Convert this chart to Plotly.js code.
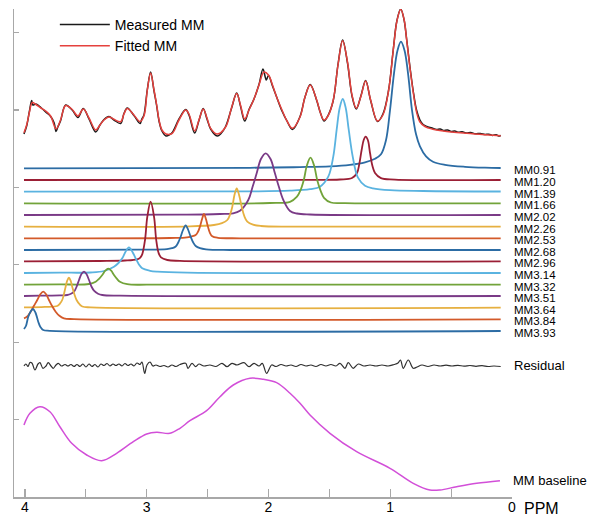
<!DOCTYPE html>
<html>
<head>
<meta charset="utf-8">
<script src="https://cdn.plot.ly/plotly-3.0.1.min.js"></script>
<style>html,body{margin:0;padding:0;background:#fff;}#chart{width:591px;height:516px;}</style>
</head>
<body>
<div id="chart"></div>
<script>
// ---------- DATA (chemical shift in ppm, signal in arbitrary units) ----------
const fitPpm = [4.008,3.986,3.963,3.940,3.910,3.869,3.830,3.789,3.745,3.708,3.666,3.612,3.565,3.521,3.474,3.419,3.384,3.351,3.310,3.269,3.214,3.187,3.160,3.105,3.055,3.023,2.995,2.968,2.940,2.918,2.899,2.875,2.842,2.790,2.735,2.680,2.653,2.606,2.571,2.536,2.505,2.475,2.421,2.352,2.304,2.261,2.230,2.195,2.160,2.119,2.078,2.037,2.000,1.967,1.933,1.889,1.848,1.803,1.741,1.700,1.657,1.604,1.573,1.544,1.511,1.468,1.429,1.391,1.351,1.314,1.279,1.240,1.202,1.161,1.105,1.060,1.014,0.975,0.945,0.914,0.887,0.865,0.838,0.810,0.784,0.756,0.715,0.657,0.564,0.372,0.222,0.093];
const fitVal = [364.3,372,385,394.5,392.5,389,386,381,368,377,391.5,387.5,381,388,379,367,372,377,380,377.7,375.3,383,388.5,382,375.5,381,407,424,407,392,377,367,363,363.7,377,387,383,366,377,388,379,368.7,363,370,389,403.5,392,378,387,398,412,425,422,412,400,387,376,368.7,380,400,412,397,384,377,381,397,432,456.3,435,402,388.7,401,416,397,376,382,406,447,476,487.7,478,457,429,403.7,385,375,370.5,368,366,363.7,362.3,361.3];

const measPpm = [4.008,3.986,3.963,3.945,3.935,3.910,3.869,3.830,3.789,3.760,3.745,3.730,3.708,3.666,3.612,3.565,3.521,3.474,3.419,3.384,3.351,3.310,3.269,3.214,3.187,3.160,3.105,3.055,3.040,3.023,2.995,2.968,2.940,2.918,2.899,2.875,2.842,2.810,2.790,2.735,2.680,2.653,2.606,2.571,2.536,2.505,2.475,2.421,2.390,2.352,2.304,2.261,2.230,2.195,2.160,2.119,2.078,2.045,2.018,2.000,1.967,1.933,1.889,1.848,1.803,1.741,1.700,1.657,1.604,1.573,1.544,1.511,1.468,1.429,1.391,1.351,1.314,1.279,1.240,1.202,1.161,1.105,1.060,1.014,0.975,0.945,0.914,0.887,0.865,0.838,0.810,0.784,0.756,0.730,0.700,0.657,0.620,0.590,0.564,0.530,0.500,0.470,0.440,0.410,0.372,0.340,0.300,0.260,0.222,0.190,0.160,0.130,0.110,0.093];
const measVal = [363,371,386,396.5,392,393,389.5,385,380.5,374,365.5,370,376,392,387,379.5,388.5,378,365,372,377.5,380.5,377,373.5,383.5,389,381.5,373.5,378,382,407.5,425,406,391,376,366,361,362.5,364.5,378,387.5,382,364,376.5,388.5,378,368,361,363.5,370.5,388.5,404,391,376,387.5,398,412.5,428,417,421.5,411,400,386,376,367.5,380.5,400,412.5,396.5,384,376,381.5,396.5,432.5,457,434,401,388,401.5,416.5,396.5,375.5,383,406.5,447.5,476.5,488,477.5,457.5,430,405,387,377,372.5,370.5,369,367.5,368,366.5,367,365.5,366,364.8,365.3,364,364.6,363.2,363.6,362.5,362.8,361.6,362.3,361,361.5];

const mmNames = ['MM0.91','MM1.20','MM1.39','MM1.66','MM2.02','MM2.26','MM2.53','MM2.68','MM2.96','MM3.14','MM3.32','MM3.51','MM3.64','MM3.84','MM3.93'];
const mmPpm = [
  [4.008,2.152,1.741,1.495,1.331,1.207,1.125,1.076,1.035,1.002,0.969,0.940,0.912,0.883,0.854,0.821,0.788,0.756,0.706,0.649,0.550,0.386,0.222,0.093],
  [4.008,1.741,1.413,1.314,1.273,1.254,1.235,1.218,1.202,1.184,1.166,1.146,1.125,1.076,0.961,0.093],
  [4.008,2.152,1.823,1.659,1.577,1.509,1.468,1.440,1.415,1.390,1.366,1.341,1.308,1.265,1.207,1.142,1.002,0.731,0.093],
  [4.008,1.988,1.823,1.766,1.737,1.710,1.684,1.655,1.626,1.600,1.573,1.544,1.487,1.372,0.093],
  [4.008,2.727,2.398,2.292,2.234,2.166,2.131,2.097,2.062,2.023,1.983,1.947,1.914,1.878,1.823,1.766,1.659,0.093],
  [4.008,2.645,2.448,2.382,2.338,2.316,2.297,2.279,2.261,2.242,2.220,2.197,2.174,2.127,2.062,1.823,0.093],
  [4.008,2.809,2.669,2.598,2.579,2.563,2.546,2.530,2.513,2.497,2.481,2.462,2.415,2.234,0.093],
  [4.008,3.055,2.834,2.793,2.762,2.741,2.721,2.702,2.680,2.659,2.639,2.618,2.598,2.563,2.513,2.316,0.093],
  [4.008,3.384,3.179,3.078,3.055,3.037,3.014,2.995,2.968,2.940,2.922,2.903,2.883,2.831,2.727,0.093],
  [4.008,3.713,3.461,3.351,3.269,3.232,3.201,3.175,3.146,3.117,3.091,3.064,3.037,2.973,2.913,2.669,0.093],
  [4.008,3.713,3.474,3.419,3.392,3.365,3.340,3.316,3.292,3.269,3.244,3.220,3.160,2.973,0.093],
  [4.008,3.877,3.713,3.653,3.622,3.597,3.577,3.556,3.536,3.515,3.495,3.474,3.454,3.433,3.400,3.365,3.220,0.093],
  [4.008,3.836,3.735,3.713,3.694,3.680,3.666,3.653,3.639,3.625,3.612,3.594,3.576,3.552,3.529,3.460,0.093],
  [4.008,3.984,3.953,3.926,3.899,3.874,3.850,3.826,3.803,3.776,3.748,3.717,3.680,3.598,0.093],
  [4.008,3.992,3.973,3.953,3.934,3.914,3.891,3.873,3.850,3.795,0.093]
];
const mmAmp = [
  [0,0.5,1.2,2,3.5,6,9.5,14,28,58,95,118,126.6,118,95,58,34,22,12,6.6,3.5,1.5,0.6,0.3],
  [0,0.2,0.5,2,7,16,30,40,43.3,40,27,14,7,1.8,0.4,0],
  [0,0.3,1,2.5,5,15,35,62,84,92.7,84,62,35,14,6,3.4,1.5,0.7,0.2],
  [0,0.3,1.5,6.6,13,23.3,38,45.6,38,23.3,13,5.5,0.8,0.2,0],
  [0,0.3,1,1.7,4.3,15,28,41.7,56,61.7,56,41.7,28,15,4,1.5,0.5,0],
  [0,0.3,1.7,3.5,6.7,12,20,32,38.4,32,20,10,5,2,0.7,0,0],
  [0,0.3,1,3.3,6.5,11.6,19,24.3,19,11.6,5.5,2,0.5,0,0],
  [0,0.3,0.8,1.8,3.5,7.5,13.3,20,24.7,20,13.3,7.5,4,1.8,0.7,0,0],
  [0,0.3,0.8,2,3.5,7,21.3,44.6,59.6,44.6,21.3,8.5,4,1.3,0.4,0],
  [0,0.3,0.5,2,6.3,10,14.7,21,25.7,21,14.7,8.5,4.7,2.2,1.3,0.3,0],
  [0,0.3,0.7,3,5.8,9.7,14,16,14,9.7,5.8,3,0.5,0,0],
  [0,0.3,0.6,1,2.2,4.3,9,16,22,24.3,22,16,9.5,5.3,2.3,1,0.3,0],
  [0.3,0.8,1.7,4,7.7,13.5,21,27,30,27,21,13.5,7.7,3.5,1.2,0.3,0],
  [1,2.5,7.6,13.5,19.3,25,27.6,25,19.3,13,7.6,3.5,1,0.2,0],
  [2,5,14.3,19.5,22,18.5,9.3,4,1,0.2,0]
];
const mmOffset = [328.7,317,305.3,293.7,282,270.3,258.7,247,235.7,224,212.3,201,189.3,177.7,166];

const residPpm = [4.008,3.992,3.975,3.959,3.943,3.918,3.893,3.877,3.852,3.827,3.809,3.786,3.768,3.745,3.726,3.699,3.671,3.647,3.622,3.597,3.573,3.548,3.524,3.499,3.474,3.450,3.425,3.400,3.376,3.351,3.326,3.302,3.277,3.253,3.228,3.203,3.179,3.154,3.129,3.105,3.080,3.055,3.039,3.017,2.998,2.973,2.949,2.924,2.891,2.858,2.825,2.793,2.760,2.727,2.680,2.661,2.628,2.598,2.571,2.530,2.481,2.431,2.382,2.341,2.300,2.259,2.201,2.160,2.119,2.078,2.051,2.015,1.974,1.938,1.897,1.856,1.815,1.774,1.733,1.692,1.651,1.610,1.569,1.528,1.487,1.446,1.413,1.372,1.345,1.304,1.262,1.216,1.166,1.117,1.068,1.018,0.969,0.936,0.916,0.893,0.852,0.811,0.780,0.739,0.690,0.641,0.591,0.542,0.493,0.444,0.394,0.345,0.296,0.246,0.197,0.148,0.093];
const residVal = [-0.5,1.5,-1,3,2.5,-4.5,1.5,2.8,-2.8,-0.5,2.8,-0.5,-2.8,0.5,2.2,-0.5,1,-0.5,1,-1,1,-1,1.5,-1.5,1.5,-1,1,-1.5,1.5,0,2,-0.5,1.5,0,1.5,-0.5,2,0,1.5,-0.5,2.5,1,3.5,-8,0.5,3.5,-0.5,0.5,-1,0,-1.5,0.5,-1,1,2.2,-2.8,2.2,-1.2,1.5,-0.5,0.5,-1,2.2,-1.2,2.2,0.5,2.8,-1.2,2.2,-0.5,2.2,-7.8,0.5,-1,1,-0.5,0.5,-1,1,-0.5,0.5,-1,1,-0.5,1,-0.5,2.2,-2.8,2.8,-2.8,1.5,-0.5,0.5,-0.5,0.5,-0.5,1,2.5,5.5,-2.8,5.5,-2.8,-1.5,0.5,-1,0.5,-0.5,0.3,-0.5,0.2,-0.7,0,-0.8,-0.1,-1,-0.5,-1];
const residOffset = 131.5;

const basePpm = [4.008,3.959,3.877,3.795,3.713,3.616,3.493,3.370,3.247,3.110,3.000,2.918,2.809,2.727,2.645,2.508,2.398,2.289,2.152,2.043,1.933,1.823,1.741,1.659,1.495,1.276,1.002,0.811,0.674,0.591,0.454,0.290,0.099];
const baseVal = [72,83.7,90.3,85.3,70.3,53.7,42,36.3,43.7,55.3,63,64.7,63.7,68.7,76.3,86.3,100.3,112,118.7,117.7,114.3,103.7,93.7,82,63.7,45.3,28.7,13.7,7,7,10.3,13.7,16.3];

const xTickVals = [4,3.5,3,2.5,2,1.5,1,0.5,0];
const xTickText = ['4','','3','','2','','1','','0'];
const yTickVals = [77.4,154.8,232.2,309.6,387,464.4];

// ---------- STYLE ----------
const mmColors = ['#2c6ca4','#9b1f35','#5ab3e0','#72a33a','#7a3a86','#e6b040','#d35a2a',
                  '#2c6ca4','#9b1f35','#5ab3e0','#72a33a','#7a3a86','#e6b040','#d35a2a','#2c6ca4'];
const FONT = 'Liberation Sans, Arial, Helvetica, sans-serif';

const traces = [];
traces.push({x: measPpm, y: measVal, mode: 'lines', name: 'Measured MM',
  line: {color: '#1a1a1a', width: 1.5, shape: 'spline'}, hoverinfo: 'skip'});
traces.push({x: fitPpm, y: fitVal, mode: 'lines', name: 'Fitted MM',
  line: {color: '#e5413d', width: 1.5, shape: 'spline'}, hoverinfo: 'skip'});
mmNames.forEach((nm, i) => {
  traces.push({x: mmPpm[i], y: mmAmp[i].map(v => v + mmOffset[i]), mode: 'lines', name: nm,
    showlegend: false, line: {color: mmColors[i], width: 1.8, shape: 'spline'}, hoverinfo: 'skip'});
});
traces.push({x: residPpm, y: residVal.map(v => v + residOffset), mode: 'lines', name: 'Residual',
  showlegend: false, line: {color: '#303030', width: 1.2, shape: 'spline'}, hoverinfo: 'skip'});
traces.push({x: basePpm, y: baseVal, mode: 'lines', name: 'MM baseline',
  showlegend: false, line: {color: '#d24fd8', width: 1.5, shape: 'spline'}, hoverinfo: 'skip'});

const annotations = mmNames.map((nm, i) => ({
  x: 0.093, y: mmOffset[i], xref: 'x', yref: 'y', xanchor: 'left', yanchor: 'middle',
  xshift: 11, yshift: -2, text: nm, showarrow: false, font: {family: FONT, size: 11.5, color: '#000'}
}));
annotations.push({x: 0.093, y: residOffset, xref: 'x', yref: 'y', xanchor: 'left', yanchor: 'middle',
  xshift: 11, yshift: 0, text: 'Residual', showarrow: false, font: {family: FONT, size: 13, color: '#000'}});
annotations.push({x: 0.099, y: baseVal[baseVal.length - 1], xref: 'x', yref: 'y', xanchor: 'left', yanchor: 'middle',
  xshift: 11, yshift: 0, text: 'MM baseline', showarrow: false, font: {family: FONT, size: 13, color: '#000'}});
annotations.push({x: 0, y: 0, xref: 'x', yref: 'y', xanchor: 'left', yanchor: 'middle',
  xshift: 10, yshift: -11, text: 'PPM', showarrow: false, font: {family: FONT, size: 16, color: '#000'}});

const layout = {
  width: 591, height: 516,
  margin: {l: 14, r: 79, t: 9, b: 19, pad: 0},
  paper_bgcolor: '#fff', plot_bgcolor: '#fff',
  showlegend: true,
  legend: {x: 0.082, y: 1.0, xanchor: 'left', yanchor: 'top', bgcolor: 'rgba(0,0,0,0)',
    font: {family: FONT, size: 14, color: '#000'}, itemwidth: 50, tracegroupgap: 0},
  xaxis: {range: [4.09, 0], showgrid: false, zeroline: false, showline: true,
    linecolor: '#a8a8a8', linewidth: 1.5, ticks: 'inside', ticklen: 8, tickwidth: 1.2,
    tickcolor: '#a8a8a8', tickmode: 'array', tickvals: xTickVals, ticktext: xTickText,
    ticklabelstandoff: -3,
    tickfont: {family: FONT, size: 14, color: '#000'}, fixedrange: true},
  yaxis: {range: [0, 488], showgrid: false, zeroline: false, showline: true,
    linecolor: '#a8a8a8', linewidth: 1.5, ticks: 'inside', ticklen: 5, tickwidth: 1.2,
    tickcolor: '#a8a8a8', tickmode: 'array', tickvals: yTickVals, showticklabels: false, fixedrange: true},
  annotations: annotations
};

Plotly.newPlot('chart', traces, layout, {staticPlot: true, displayModeBar: false});
</script>
</body>
</html>
